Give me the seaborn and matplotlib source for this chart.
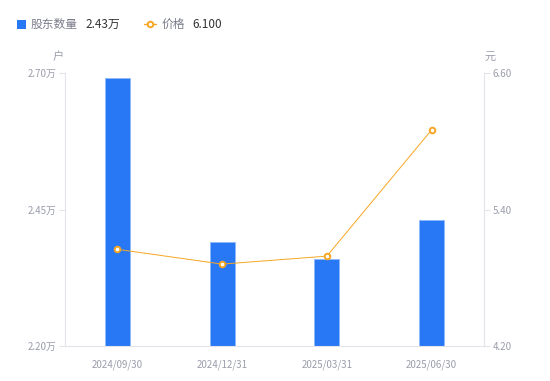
import matplotlib
matplotlib.use("Agg")
import matplotlib.pyplot as plt
import seaborn as sns
import pandas as pd
from matplotlib.lines import Line2D
from matplotlib.patches import Rectangle

# ---- data ----
dates = ["2024/09/30", "2024/12/31", "2025/03/31", "2025/06/30"]
holders = [2.69, 2.39, 2.36, 2.43]        # 万户
price = [5.05, 4.92, 4.99, 6.10]          # 元
left_ticks = [2.20, 2.45, 2.70]
right_ticks = [4.20, 5.40, 6.60]

sns.set_theme(style="white")
plt.rcParams['font.family'] = ['Noto Sans CJK SC', 'DejaVu Sans']

BLUE = "#2878F5"
ORANGE = "#F6A623"
GRAY = "#9B9DAB"
AXC = "#E3E4EA"

df = pd.DataFrame({"date": dates, "holders": holders, "price": price})

fig = plt.figure(figsize=(5.5, 3.81), dpi=100)
ax = fig.add_axes([65/550, 1-346/381, (484-65)/550, (346-73)/381])

sns.barplot(data=df, x="date", y="holders", color=BLUE, saturation=1,
            width=0.24, edgecolor="#8DB8FA", linewidth=0.6, ax=ax)
ax.set_ylim(2.20, 2.70)
ax.set_xlim(-0.5, 3.5)
ax.set_yticks(left_ticks)
ax.set_yticklabels([f"{v:.2f}万" for v in left_ticks])
ax.set_xlabel("")
ax.set_ylabel("")

ax2 = ax.twinx()
sns.pointplot(data=df, x="date", y="price", color=ORANGE, markers="o",
              linewidth=0.7, markersize=4, markerfacecolor="white",
              markeredgecolor=ORANGE, markeredgewidth=1.4, ax=ax2)
ax2.set_ylim(4.20, 6.60)
ax2.set_xlim(-0.5, 3.5)
ax2.set_yticks(right_ticks)
ax2.set_yticklabels([f"{v:.2f}" for v in right_ticks])
ax2.set_ylabel("")
ax2.set_xlabel("")

for a in (ax, ax2):
    for s in a.spines.values():
        s.set_visible(False)
    a.grid(False)

ax.spines["left"].set_visible(True)
ax.spines["bottom"].set_visible(True)
ax2.spines["right"].set_visible(True)
for s in (ax.spines["left"], ax.spines["bottom"], ax2.spines["right"]):
    s.set_color(AXC)
    s.set_linewidth(0.8)

ax.tick_params(axis="y", left=True, length=4, width=0.8, color=AXC,
               labelsize=7, labelcolor=GRAY, pad=2)
ax.tick_params(axis="x", bottom=False, labelsize=7, labelcolor=GRAY, pad=4)
ax2.tick_params(axis="y", right=True, length=4, width=0.8, color=AXC,
                labelsize=7, labelcolor=GRAY, pad=2)

fig.text(58/550, 1-57/381, "户", fontsize=8, color=GRAY, ha="center", va="center")
fig.text(490/550, 1-57/381, "元", fontsize=8, color=GRAY, ha="center", va="center")

# legend
fig.patches.append(Rectangle((17/550, 1-29/381), 9/550, 9/381, transform=fig.transFigure,
                             facecolor=BLUE, edgecolor="none"))
fig.text(31/550, 1-24/381, "股东数量", fontsize=8.5, color="#7A7C8A", va="center")
fig.text(85/550, 1-24/381, f"{holders[-1]:.2f}万", fontsize=8.5, color="#333333", va="center")
fig.lines.append(Line2D([144/550, 156/550], [1-24/381, 1-24/381], transform=fig.transFigure,
                        color=ORANGE, linewidth=1.0))
fig.lines.append(Line2D([150/550], [1-24/381], transform=fig.transFigure, marker="o",
                        markersize=4, markerfacecolor="white", markeredgecolor=ORANGE,
                        markeredgewidth=1.4, linestyle="none"))
fig.text(162/550, 1-24/381, "价格", fontsize=8.5, color="#7A7C8A", va="center")
fig.text(192/550, 1-24/381, f"{price[-1]:.3f}", fontsize=8.5, color="#333333", va="center")

fig.savefig("out.png", dpi=100)
